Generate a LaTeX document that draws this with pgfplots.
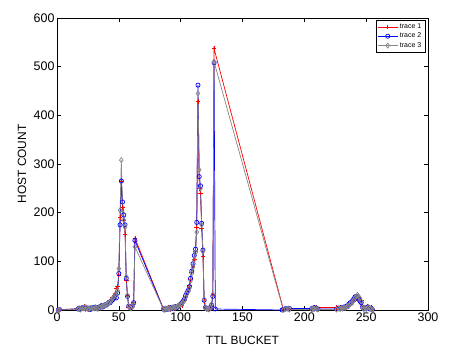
\documentclass[border=0pt]{standalone}
\usepackage{fontspec}
\setmainfont{Liberation Sans}
\usepackage{pgfplots}
\pgfplotsset{compat=1.18}
\usetikzlibrary{calc}
\definecolor{tr1}{RGB}{255,0,0}
\definecolor{tr2}{RGB}{0,0,255}
\definecolor{tr3}{RGB}{135,135,135}
\begin{document}
\begin{tikzpicture}
\begin{axis}[
  scale only axis, width=371bp, height=292bp,
  xmin=0, xmax=300, ymin=0, ymax=600,
  xtick={0,50,...,300}, ytick={0,100,...,600},
  tick align=inside, xtick pos=both, ytick pos=both,
  major tick length=4bp,
  axis line style={line width=0.6bp},
  every tick/.style={line width=0.5bp, black},
  /pgf/number format/assume math mode=true,
  tick label style={font=\fontsize{12.5}{14}\selectfont},
  xticklabel style={yshift=1bp},
  yticklabel style={xshift=1bp},
  xlabel={TTL BUCKET}, ylabel={HOST COUNT},
  every axis x label/.style={at={(axis description cs:0.5,0)}, anchor=center, yshift=-30bp, font=\fontsize{12}{14}\selectfont},
  every axis y label/.style={at={(axis description cs:0,0.5)}, anchor=center, rotate=90, yshift=35bp, font=\fontsize{12}{14}\selectfont},
  clip=false,
  legend style={at={(rel axis cs:0.992,0.993)}, anchor=north east,
    font=\fontsize{7}{8}\selectfont, draw=black, line width=0.5bp,
    inner sep=1.5bp, row sep=-1bp, cells={anchor=west}},
  legend cell align=left,
  legend image code/.code={\draw[mark repeat=2,mark phase=2] plot coordinates {(0cm,0cm) (0.35cm,0cm) (0.7cm,0cm)};},
  every axis plot/.append style={line width=0.7bp},
]
\coordinate (A) at (rel axis cs:0,0);
\coordinate (B) at (rel axis cs:1,1);
\addplot[tr1, mark=+, mark size=2.3bp] coordinates {
(1,0) (2,0) (17,3) (18,1) (19,4) (20,5) (21,2) (22,7) (23,3) (24,2) (25,1) (26,3) (27,2) (28,4) (29,3) (30,5) (31,4) (32,2) (33,3) (34,5) (35,6) (36,8) (37,7) (38,10) (39,9) (40,12) (41,15) (42,14) (43,18) (44,22) (45,26) (46,30) (47,35) (48,45) (49,48) (50,72) (51,190) (52,265) (53,210) (54,185) (55,155) (56,60) (57,30) (58,6) (59,4) (60,5) (61,10) (62,15) (63,148)
(86,3) (87,1) (88,4) (89,2) (90,5) (91,3) (92,1) (93,4) (94,6) (95,3) (96,7) (97,5) (98,8) (99,10) (100,12) (101,9) (102,15) (103,20) (104,28) (105,32) (106,42) (107,50) (108,62) (109,78) (110,90) (111,105) (112,120) (113,170) (114,428) (115,250) (116,240) (117,168) (118,110) (119,18) (120,6) (121,3) (122,1) (123,4) (124,2) (125,8) (126,30) (127,537)
(183,2) (185,4) (187,2) (188,1) (206,2) (207,4) (208,6) (209,3) (210,5) (226,5) (228,3) (229,5) (230,2) (231,6) (232,4) (233,7) (234,5) (235,9) (236,11) (237,13) (238,16) (239,18) (240,20) (241,22) (242,24) (243,26) (244,25) (245,23) (246,20) (247,8) (248,3) (249,2) (250,6) (251,8) (252,4) (253,3) (254,5) (255,1)
};
\addlegendentry{trace 1}
\addplot[tr2, mark=o, mark size=2.1bp] coordinates {
(1,0) (2,1) (17,2) (18,4) (19,2) (20,3) (21,5) (22,4) (23,6) (24,3) (25,2) (26,4) (27,1) (28,3) (29,5) (30,4) (31,6) (32,3) (33,5) (34,4) (35,7) (36,9) (37,6) (38,8) (39,11) (40,10) (41,13) (42,16) (43,15) (44,19) (45,21) (46,24) (47,28) (48,25) (49,35) (50,75) (51,175) (52,265) (53,222) (54,195) (55,175) (56,65) (57,28) (58,8) (59,5) (60,5) (61,8) (62,15) (63,143)
(86,2) (87,0) (88,3) (89,1) (90,4) (91,2) (92,5) (93,3) (94,6) (95,4) (96,7) (97,5) (98,8) (99,10) (100,12) (101,15) (102,18) (103,22) (104,30) (105,35) (106,40) (107,48) (108,65) (109,80) (110,95) (111,112) (112,125) (113,180) (114,462) (115,274) (116,255) (117,178) (118,123) (119,20) (120,5) (121,3) (122,2) (123,4) (124,3) (125,10) (126,28) (127,508) (128,2)
(182,0) (183,1) (185,3) (187,2) (188,3) (206,3) (207,2) (208,5) (209,4) (210,3) (211,2) (226,2) (228,4) (229,3) (230,5) (231,3) (232,6) (233,5) (234,8) (235,7) (236,12) (237,15) (238,14) (239,19) (240,23) (241,27) (242,28) (243,25) (244,22) (245,18) (246,15) (247,6) (248,2) (249,4) (250,3) (251,6) (252,5) (253,2) (254,4) (255,1)
};
\addlegendentry{trace 2}
\addplot[tr3, mark=diamond, mark size=2.5bp] coordinates {
(1,0) (2,0) (17,2) (18,3) (19,1) (20,4) (21,3) (22,5) (23,2) (24,4) (25,3) (26,2) (27,4) (28,2) (29,4) (30,3) (31,5) (32,4) (33,2) (34,6) (35,5) (36,7) (37,8) (38,9) (39,10) (40,11) (41,14) (42,15) (43,17) (44,20) (45,24) (46,27) (47,32) (48,30) (49,40) (50,85) (51,205) (52,308) (53,200) (54,185) (55,170) (56,68) (57,30) (58,8) (59,5) (60,3) (61,8) (62,12) (63,130)
(86,2) (87,1) (88,3) (89,2) (90,3) (91,4) (92,2) (93,5) (94,4) (95,6) (96,5) (97,7) (98,9) (99,8) (100,11) (101,13) (102,16) (103,20) (104,26) (105,33) (106,38) (107,45) (108,60) (109,75) (110,88) (111,103) (112,118) (113,160) (114,445) (115,288) (116,250) (117,175) (118,120) (119,22) (120,4) (121,2) (122,3) (123,1) (124,4) (125,12) (126,32) (127,510)
(183,0) (185,2) (187,3) (188,1) (206,1) (207,3) (208,2) (209,4) (210,2) (211,1) (226,1) (228,3) (229,2) (230,4) (231,3) (232,5) (233,4) (234,6) (235,8) (236,9) (237,12) (238,14) (239,17) (240,20) (241,25) (242,28) (243,31) (244,27) (245,24) (246,18) (247,5) (248,3) (249,5) (250,2) (251,4) (252,6) (253,3) (254,2) (255,1)
};
\addlegendentry{trace 3}
\end{axis}
\pgfresetboundingbox
\path[use as bounding box] ($(A)+(-57bp,-44bp)$) rectangle ($(B)+(26bp,18bp)$);
\end{tikzpicture}
\end{document}
